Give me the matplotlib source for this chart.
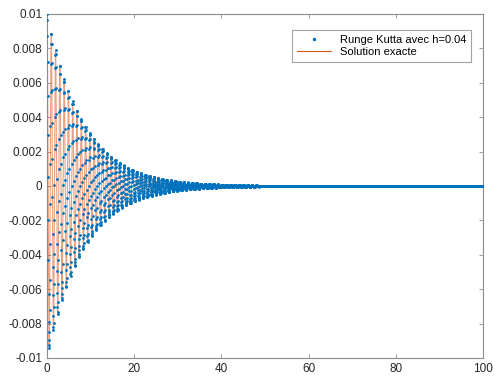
import numpy as np
import matplotlib
matplotlib.use("Agg")
import matplotlib.pyplot as plt

# Damped oscillator: y'' + c*y' + k*y = 0, y(0) = y0, y'(0) = 0
c = 0.24
k = 41.1
y0 = 0.01
h = 0.04
t_end = 100.0

x_ticks = [0, 20, 40, 60, 80, 100]
y_ticks = [-0.01, -0.008, -0.006, -0.004, -0.002, 0, 0.002, 0.004, 0.006, 0.008, 0.01]
y_tick_labels = ["-0.01", "-0.008", "-0.006", "-0.004", "-0.002", "0",
                 "0.002", "0.004", "0.006", "0.008", "0.01"]


def f(t, u):
    y, v = u
    return np.array([v, -c * v - k * y])


def runge_kutta(u0, h, n):
    u = np.empty((n + 1, 2))
    u[0] = u0
    for i in range(n):
        t = i * h
        k1 = f(t, u[i])
        k2 = f(t + h / 2, u[i] + h / 2 * k1)
        k3 = f(t + h / 2, u[i] + h / 2 * k2)
        k4 = f(t + h, u[i] + h * k3)
        u[i + 1] = u[i] + h / 6 * (k1 + 2 * k2 + 2 * k3 + k4)
    return u


n = int(round(t_end / h))
t_rk = np.arange(n + 1) * h
u_rk = runge_kutta(np.array([y0, 0.0]), h, n)

# Closed-form solution of the same problem
alpha = c / 2
omega = np.sqrt(k - alpha ** 2)
t_ex = np.linspace(0, t_end, 20001)
y_ex = y0 * np.exp(-alpha * t_ex) * (np.cos(omega * t_ex) + alpha / omega * np.sin(omega * t_ex))

plt.rcParams["font.family"] = ["Liberation Sans", "DejaVu Sans"]
fig = plt.figure(figsize=(4.95, 3.83), dpi=100)
ax = fig.add_axes([47 / 495, 1 - 358 / 383, (483 - 47) / 495, (358 - 14) / 383])

blue = "#0072BD"
orange = "#D95319"
ax.plot(t_rk, u_rk[:, 0], ".", color=blue, markersize=2.0, label="Runge Kutta avec h=0.04", zorder=3)
ax.plot(t_ex, y_ex, "-", color=orange, linewidth=0.8, alpha=0.55, label="Solution exacte", zorder=2)

ax.set_xlim(0, 100)
ax.set_ylim(-0.01, 0.01)
ax.set_xticks(x_ticks)
ax.set_yticks(y_ticks)
ax.set_yticklabels(y_tick_labels)

gray = "#262626"
for s in ax.spines.values():
    s.set_color("#8c8c8c")
    s.set_linewidth(0.8)
ax.tick_params(direction="in", length=3, width=0.6, colors="#8c8c8c",
               labelcolor=gray, labelsize=8.5, top=True, right=True)

leg = ax.legend(loc="upper right", bbox_to_anchor=(0.985, 0.97), fontsize=8,
                frameon=True, fancybox=False, edgecolor="#8c8c8c",
                handlelength=3.0, borderpad=0.45, labelspacing=0.2, markerscale=1.5)
leg.get_frame().set_linewidth(0.8)
for line in leg.get_lines():
    line.set_alpha(1.0)

fig.savefig("out.png", dpi=100)
